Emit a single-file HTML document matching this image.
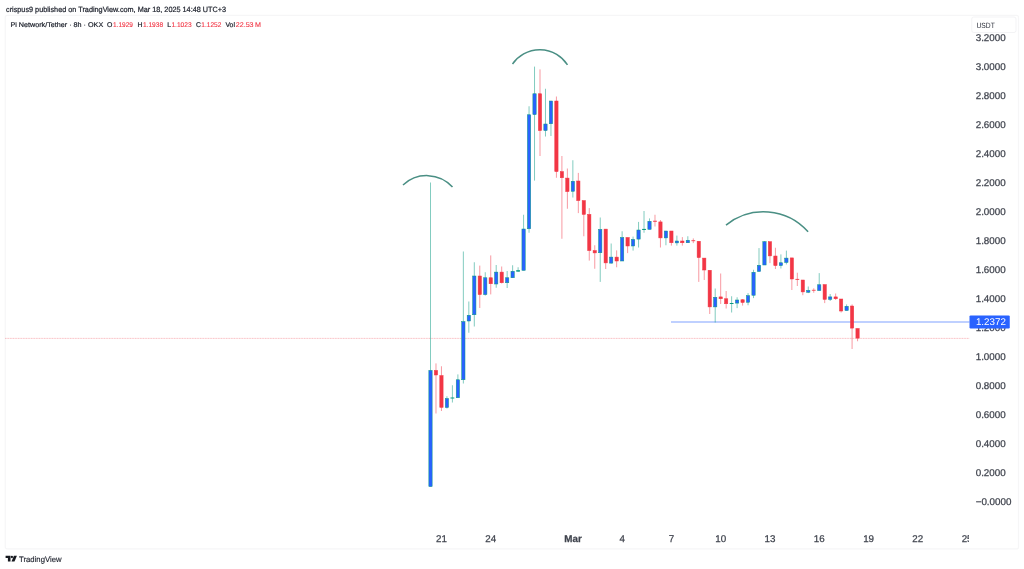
<!DOCTYPE html>
<html><head><meta charset="utf-8"><title>PIUSDT chart</title>
<style>
html,body{margin:0;padding:0;background:#fff;}
body{width:1024px;height:569px;overflow:hidden;font-family:"Liberation Sans",sans-serif;}
svg{display:block;position:absolute;left:0;top:0;will-change:transform;}
text{font-family:"Liberation Sans",sans-serif;text-rendering:geometricPrecision;}
.ax{font-size:9.8px;fill:#3f434d;stroke:#3f434d;stroke-width:0.25px;}
.b{font-weight:bold;}
.hd{font-size:7.6px;fill:#1c202b;stroke:#1c202b;stroke-width:0.22px;}
.lg{font-size:6.9px;fill:#1c202b;stroke:#1c202b;stroke-width:0.2px;}
.lr{fill:#f23645;stroke:#f23645;stroke-width:0.12px;}
</style></head>
<body>
<svg width="1024" height="569" viewBox="0 0 1024 569">
<rect x="0" y="0" width="1024" height="569" fill="#ffffff"/>
<!-- frame -->
<rect x="5.25" y="15.3" width="1013.25" height="533.6" rx="2" ry="2" fill="none" stroke="#f6f6f7" stroke-width="1.2"/>
<!-- header -->
<text x="6" y="11.7" class="hd" textLength="220" lengthAdjust="spacingAndGlyphs">crispus9 published on TradingView.com, Mar 18, 2025 14:48 UTC+3</text>
<!-- legend -->
<text x="10.4" y="27" class="lg" textLength="92.8" lengthAdjust="spacingAndGlyphs">Pi Network/Tether · 8h · OKX</text>
<text x="107.1" y="27" class="lg">O</text><text x="113" y="27" class="lg lr" textLength="19.9" lengthAdjust="spacingAndGlyphs">1.1929</text>
<text x="137.4" y="27" class="lg">H</text><text x="142.9" y="27" class="lg lr" textLength="20.2" lengthAdjust="spacingAndGlyphs">1.1938</text>
<text x="167.3" y="27" class="lg">L</text><text x="171.4" y="27" class="lg lr" textLength="20.3" lengthAdjust="spacingAndGlyphs">1.1023</text>
<text x="196" y="27" class="lg">C</text><text x="201.3" y="27" class="lg lr" textLength="20" lengthAdjust="spacingAndGlyphs">1.1252</text>
<text x="225.4" y="27" class="lg">Vol</text><text x="235.7" y="27" class="lg lr" textLength="25.3" lengthAdjust="spacingAndGlyphs">22.53 M</text>
<!-- USDT box -->
<rect x="971.75" y="17" width="44.25" height="15.5" rx="2" ry="2" fill="#fff" stroke="#f3f3f5" stroke-width="1"/>
<text x="976.5" y="27.6" style="font-size:7.6px;fill:#2a2e39;" textLength="18.3" lengthAdjust="spacingAndGlyphs">USDT</text>
<!-- price labels -->
<text x="975.7" y="41.18" class="ax">3.2000</text>
<text x="975.7" y="70.15" class="ax">3.0000</text>
<text x="975.7" y="99.12" class="ax">2.8000</text>
<text x="975.7" y="128.1" class="ax">2.6000</text>
<text x="975.7" y="157.07" class="ax">2.4000</text>
<text x="975.7" y="186.05" class="ax">2.2000</text>
<text x="975.7" y="215.02" class="ax">2.0000</text>
<text x="975.7" y="243.99" class="ax">1.8000</text>
<text x="975.7" y="272.97" class="ax">1.6000</text>
<text x="975.7" y="301.94" class="ax">1.4000</text>
<text x="975.7" y="330.92" class="ax">1.2000</text>
<text x="975.7" y="359.89" class="ax">1.0000</text>
<text x="975.7" y="388.86" class="ax">0.8000</text>
<text x="975.7" y="417.84" class="ax">0.6000</text>
<text x="975.7" y="446.81" class="ax">0.4000</text>
<text x="975.7" y="475.79" class="ax">0.2000</text>
<text x="975.7" y="504.76" class="ax">−0.0000</text>
<!-- time labels -->
<g clip-path="url(#tc)">
<text x="441.5" y="541.95" text-anchor="middle" class="ax">21</text>
<text x="490.8" y="541.95" text-anchor="middle" class="ax">24</text>
<text x="573" y="541.95" text-anchor="middle" class="ax b">Mar</text>
<text x="622.2" y="541.95" text-anchor="middle" class="ax">4</text>
<text x="671.5" y="541.95" text-anchor="middle" class="ax">7</text>
<text x="720.8" y="541.95" text-anchor="middle" class="ax">10</text>
<text x="770" y="541.95" text-anchor="middle" class="ax">13</text>
<text x="819.3" y="541.95" text-anchor="middle" class="ax">16</text>
<text x="868.6" y="541.95" text-anchor="middle" class="ax">19</text>
<text x="917.8" y="541.95" text-anchor="middle" class="ax">22</text>
<text x="967.1" y="541.95" text-anchor="middle" class="ax">25</text>
</g>
<defs><clipPath id="tc"><rect x="0" y="520" width="969" height="40"/></clipPath></defs>
<!-- last price dotted line -->
<line x1="5" y1="338.4" x2="969.5" y2="338.4" stroke="#f23645" stroke-opacity="0.12" stroke-width="1"/>
<line x1="5" y1="338.4" x2="969.5" y2="338.4" stroke="#f23645" stroke-opacity="0.2" stroke-width="1" stroke-dasharray="1.3 1.3"/>
<!-- horizontal ray -->
<line x1="671" y1="322" x2="969.5" y2="322" stroke="#2962ff" stroke-opacity="0.4" stroke-width="1.5"/>
<!-- candles -->
<rect x="430" y="182.5" width="1" height="304.1" fill="#089981" fill-opacity="0.5"/>
<rect x="428.85" y="370.4" width="3.3" height="116.2" fill="#2962ff" stroke="#089981" stroke-width="0.5"/>
<rect x="435.48" y="363.4" width="1" height="50.1" fill="#f23645" fill-opacity="0.5"/>
<rect x="434.33" y="370.4" width="3.3" height="4.6" fill="#f23645" stroke="#f23645" stroke-width="0.5"/>
<rect x="440.95" y="366.25" width="1" height="44.75" fill="#f23645" fill-opacity="0.5"/>
<rect x="439.8" y="375.6" width="3.3" height="31.8" fill="#f23645" stroke="#f23645" stroke-width="0.5"/>
<rect x="446.43" y="396.25" width="1" height="12.25" fill="#089981" fill-opacity="0.5"/>
<rect x="445.28" y="398.5" width="3.3" height="9" fill="#2962ff" stroke="#089981" stroke-width="0.5"/>
<rect x="451.9" y="385.25" width="1" height="17.25" fill="#089981" fill-opacity="0.5"/>
<rect x="450.5" y="397.5" width="3.8" height="1" fill="#089981" fill-opacity="1"/>
<rect x="457.38" y="374.4" width="1" height="23.35" fill="#089981" fill-opacity="0.5"/>
<rect x="456.23" y="379.75" width="3.3" height="18" fill="#2962ff" stroke="#089981" stroke-width="0.5"/>
<rect x="462.85" y="251.5" width="1" height="132" fill="#089981" fill-opacity="0.5"/>
<rect x="461.7" y="321.6" width="3.3" height="58.15" fill="#2962ff" stroke="#089981" stroke-width="0.5"/>
<rect x="468.32" y="301.5" width="1" height="31.25" fill="#089981" fill-opacity="0.5"/>
<rect x="467.18" y="315.25" width="3.3" height="5.75" fill="#2962ff" stroke="#089981" stroke-width="0.5"/>
<rect x="473.8" y="262.25" width="1" height="64.25" fill="#089981" fill-opacity="0.5"/>
<rect x="472.65" y="276" width="3.3" height="38.75" fill="#2962ff" stroke="#089981" stroke-width="0.5"/>
<rect x="479.27" y="265.6" width="1" height="42.4" fill="#f23645" fill-opacity="0.5"/>
<rect x="478.12" y="276" width="3.3" height="18.6" fill="#f23645" stroke="#f23645" stroke-width="0.5"/>
<rect x="484.75" y="272.25" width="1" height="23.35" fill="#089981" fill-opacity="0.5"/>
<rect x="483.6" y="277.75" width="3.3" height="16.85" fill="#2962ff" stroke="#089981" stroke-width="0.5"/>
<rect x="490.23" y="255.4" width="1" height="39" fill="#f23645" fill-opacity="0.5"/>
<rect x="489.08" y="277.75" width="3.3" height="6" fill="#f23645" stroke="#f23645" stroke-width="0.5"/>
<rect x="495.7" y="265" width="1" height="22.75" fill="#089981" fill-opacity="0.5"/>
<rect x="494.55" y="272.1" width="3.3" height="11.9" fill="#2962ff" stroke="#089981" stroke-width="0.5"/>
<rect x="501.18" y="266.5" width="1" height="17" fill="#f23645" fill-opacity="0.5"/>
<rect x="500.03" y="272.1" width="3.3" height="10.65" fill="#f23645" stroke="#f23645" stroke-width="0.5"/>
<rect x="506.65" y="271" width="1" height="17" fill="#089981" fill-opacity="0.5"/>
<rect x="505.5" y="277.75" width="3.3" height="5" fill="#2962ff" stroke="#089981" stroke-width="0.5"/>
<rect x="512.12" y="265.25" width="1" height="12.75" fill="#089981" fill-opacity="0.5"/>
<rect x="510.98" y="271.25" width="3.3" height="6.5" fill="#2962ff" stroke="#089981" stroke-width="0.5"/>
<rect x="517.6" y="267.25" width="1" height="4.75" fill="#089981" fill-opacity="0.5"/>
<rect x="516.2" y="270.2" width="3.8" height="1.4" fill="#089981" fill-opacity="1"/>
<rect x="523.08" y="214.75" width="1" height="55.65" fill="#089981" fill-opacity="0.5"/>
<rect x="521.93" y="229" width="3.3" height="41.4" fill="#2962ff" stroke="#089981" stroke-width="0.5"/>
<rect x="528.55" y="106.25" width="1" height="126.5" fill="#089981" fill-opacity="0.5"/>
<rect x="527.4" y="114.75" width="3.3" height="114" fill="#2962ff" stroke="#089981" stroke-width="0.5"/>
<rect x="534.02" y="66.6" width="1" height="114" fill="#089981" fill-opacity="0.5"/>
<rect x="532.88" y="93.75" width="3.3" height="20.85" fill="#2962ff" stroke="#089981" stroke-width="0.5"/>
<rect x="539.5" y="69.4" width="1" height="86.6" fill="#f23645" fill-opacity="0.5"/>
<rect x="538.35" y="93.75" width="3.3" height="36.85" fill="#f23645" stroke="#f23645" stroke-width="0.5"/>
<rect x="544.98" y="88.75" width="1" height="47.75" fill="#089981" fill-opacity="0.5"/>
<rect x="543.83" y="124" width="3.3" height="6.6" fill="#2962ff" stroke="#089981" stroke-width="0.5"/>
<rect x="550.45" y="101" width="1" height="35" fill="#089981" fill-opacity="0.5"/>
<rect x="549.3" y="101" width="3.3" height="22.75" fill="#2962ff" stroke="#089981" stroke-width="0.5"/>
<rect x="555.92" y="96.5" width="1" height="81.25" fill="#f23645" fill-opacity="0.5"/>
<rect x="554.77" y="101" width="3.3" height="70.6" fill="#f23645" stroke="#f23645" stroke-width="0.5"/>
<rect x="561.4" y="156" width="1" height="82.75" fill="#f23645" fill-opacity="0.5"/>
<rect x="560.25" y="171.6" width="3.3" height="6.15" fill="#f23645" stroke="#f23645" stroke-width="0.5"/>
<rect x="566.88" y="168.5" width="1" height="40.25" fill="#f23645" fill-opacity="0.5"/>
<rect x="565.73" y="178.1" width="3.3" height="13.5" fill="#f23645" stroke="#f23645" stroke-width="0.5"/>
<rect x="572.35" y="160.25" width="1" height="37.25" fill="#089981" fill-opacity="0.5"/>
<rect x="571.2" y="181.25" width="3.3" height="10" fill="#2962ff" stroke="#089981" stroke-width="0.5"/>
<rect x="577.83" y="172.9" width="1" height="40.2" fill="#f23645" fill-opacity="0.5"/>
<rect x="576.68" y="181" width="3.3" height="19.6" fill="#f23645" stroke="#f23645" stroke-width="0.5"/>
<rect x="583.3" y="200.6" width="1" height="35.65" fill="#f23645" fill-opacity="0.5"/>
<rect x="582.15" y="200.6" width="3.3" height="13.8" fill="#f23645" stroke="#f23645" stroke-width="0.5"/>
<rect x="588.77" y="208.1" width="1" height="52.5" fill="#f23645" fill-opacity="0.5"/>
<rect x="587.62" y="214.4" width="3.3" height="36.2" fill="#f23645" stroke="#f23645" stroke-width="0.5"/>
<rect x="594.25" y="245.25" width="1" height="23.5" fill="#f23645" fill-opacity="0.5"/>
<rect x="593.1" y="250.6" width="3.3" height="2.3" fill="#f23645" stroke="#f23645" stroke-width="0.5"/>
<rect x="599.73" y="217.5" width="1" height="64.4" fill="#089981" fill-opacity="0.5"/>
<rect x="598.58" y="229.4" width="3.3" height="23.35" fill="#2962ff" stroke="#089981" stroke-width="0.5"/>
<rect x="605.2" y="229.1" width="1" height="39.9" fill="#f23645" fill-opacity="0.5"/>
<rect x="604.05" y="229.1" width="3.3" height="33.8" fill="#f23645" stroke="#f23645" stroke-width="0.5"/>
<rect x="610.67" y="243.5" width="1" height="20.25" fill="#089981" fill-opacity="0.5"/>
<rect x="609.52" y="257.1" width="3.3" height="6" fill="#2962ff" stroke="#089981" stroke-width="0.5"/>
<rect x="616.15" y="250.4" width="1" height="16.85" fill="#f23645" fill-opacity="0.5"/>
<rect x="615" y="257.1" width="3.3" height="3.9" fill="#f23645" stroke="#f23645" stroke-width="0.5"/>
<rect x="621.62" y="231.25" width="1" height="29.75" fill="#089981" fill-opacity="0.5"/>
<rect x="620.48" y="237.5" width="3.3" height="23.5" fill="#2962ff" stroke="#089981" stroke-width="0.5"/>
<rect x="627.1" y="237.5" width="1" height="15.6" fill="#f23645" fill-opacity="0.5"/>
<rect x="625.95" y="237.5" width="3.3" height="8.5" fill="#f23645" stroke="#f23645" stroke-width="0.5"/>
<rect x="632.58" y="236.6" width="1" height="14" fill="#089981" fill-opacity="0.5"/>
<rect x="631.43" y="239.4" width="3.3" height="6.6" fill="#2962ff" stroke="#089981" stroke-width="0.5"/>
<rect x="638.05" y="221.9" width="1" height="25.6" fill="#089981" fill-opacity="0.5"/>
<rect x="636.9" y="230" width="3.3" height="9.1" fill="#2962ff" stroke="#089981" stroke-width="0.5"/>
<rect x="643.52" y="211" width="1" height="21.75" fill="#089981" fill-opacity="0.5"/>
<rect x="642.12" y="228.9" width="3.8" height="1.1" fill="#089981" fill-opacity="1"/>
<rect x="649" y="218.4" width="1" height="11" fill="#089981" fill-opacity="0.5"/>
<rect x="647.85" y="221.25" width="3.3" height="8.15" fill="#2962ff" stroke="#089981" stroke-width="0.5"/>
<rect x="654.48" y="214.75" width="1" height="11.75" fill="#f23645" fill-opacity="0.5"/>
<rect x="653.08" y="220.7" width="3.8" height="1.2" fill="#f23645" fill-opacity="0.8"/>
<rect x="659.95" y="220" width="1" height="27.5" fill="#f23645" fill-opacity="0.5"/>
<rect x="658.8" y="221.9" width="3.3" height="16" fill="#f23645" stroke="#f23645" stroke-width="0.5"/>
<rect x="665.42" y="231" width="1" height="14.25" fill="#089981" fill-opacity="0.5"/>
<rect x="664.27" y="231" width="3.3" height="6.9" fill="#2962ff" stroke="#089981" stroke-width="0.5"/>
<rect x="670.9" y="231" width="1" height="14.6" fill="#f23645" fill-opacity="0.5"/>
<rect x="669.75" y="231" width="3.3" height="11.75" fill="#f23645" stroke="#f23645" stroke-width="0.5"/>
<rect x="676.38" y="235.6" width="1" height="10" fill="#089981" fill-opacity="0.5"/>
<rect x="675.23" y="241" width="3.3" height="1.9" fill="#2962ff" stroke="#089981" stroke-width="0.5"/>
<rect x="681.85" y="237.1" width="1" height="8.5" fill="#f23645" fill-opacity="0.5"/>
<rect x="680.7" y="241" width="3.3" height="1.75" fill="#f23645" stroke="#f23645" stroke-width="0.5"/>
<rect x="687.33" y="236.25" width="1" height="6.5" fill="#089981" fill-opacity="0.5"/>
<rect x="686.18" y="240.25" width="3.3" height="2.5" fill="#2962ff" stroke="#089981" stroke-width="0.5"/>
<rect x="692.8" y="238.4" width="1" height="4.7" fill="#f23645" fill-opacity="0.5"/>
<rect x="691.4" y="240.1" width="3.8" height="1.1" fill="#f23645" fill-opacity="0.8"/>
<rect x="698.27" y="241.25" width="1" height="40.65" fill="#f23645" fill-opacity="0.5"/>
<rect x="697.12" y="241.25" width="3.3" height="16.35" fill="#f23645" stroke="#f23645" stroke-width="0.5"/>
<rect x="703.75" y="258.1" width="1" height="21.9" fill="#f23645" fill-opacity="0.5"/>
<rect x="702.6" y="258.1" width="3.3" height="11.9" fill="#f23645" stroke="#f23645" stroke-width="0.5"/>
<rect x="709.22" y="270.25" width="1" height="43.75" fill="#f23645" fill-opacity="0.5"/>
<rect x="708.07" y="270.25" width="3.3" height="36.65" fill="#f23645" stroke="#f23645" stroke-width="0.5"/>
<rect x="714.7" y="288.5" width="1" height="34" fill="#089981" fill-opacity="0.5"/>
<rect x="713.55" y="297.25" width="3.3" height="9.65" fill="#2962ff" stroke="#089981" stroke-width="0.5"/>
<rect x="720.17" y="273.5" width="1" height="30.5" fill="#f23645" fill-opacity="0.5"/>
<rect x="719.02" y="296.9" width="3.3" height="1.85" fill="#f23645" stroke="#f23645" stroke-width="0.5"/>
<rect x="725.65" y="291" width="1" height="17.5" fill="#f23645" fill-opacity="0.5"/>
<rect x="724.5" y="298.75" width="3.3" height="5" fill="#f23645" stroke="#f23645" stroke-width="0.5"/>
<rect x="731.12" y="296.25" width="1" height="16.25" fill="#089981" fill-opacity="0.5"/>
<rect x="729.73" y="303" width="3.8" height="1" fill="#089981" fill-opacity="1"/>
<rect x="736.6" y="297.25" width="1" height="10.85" fill="#089981" fill-opacity="0.5"/>
<rect x="735.45" y="300" width="3.3" height="3.1" fill="#2962ff" stroke="#089981" stroke-width="0.5"/>
<rect x="742.08" y="299" width="1" height="6.6" fill="#f23645" fill-opacity="0.5"/>
<rect x="740.93" y="299.75" width="3.3" height="2.75" fill="#f23645" stroke="#f23645" stroke-width="0.5"/>
<rect x="747.55" y="293.1" width="1" height="12.15" fill="#089981" fill-opacity="0.5"/>
<rect x="746.4" y="295.6" width="3.3" height="6.65" fill="#2962ff" stroke="#089981" stroke-width="0.5"/>
<rect x="753.02" y="269.75" width="1" height="28.35" fill="#089981" fill-opacity="0.5"/>
<rect x="751.88" y="272.25" width="3.3" height="23" fill="#2962ff" stroke="#089981" stroke-width="0.5"/>
<rect x="758.5" y="248.1" width="1" height="23.4" fill="#089981" fill-opacity="0.5"/>
<rect x="757.35" y="265.25" width="3.3" height="6.25" fill="#2962ff" stroke="#089981" stroke-width="0.5"/>
<rect x="763.97" y="241" width="1" height="24" fill="#089981" fill-opacity="0.5"/>
<rect x="762.82" y="241.7" width="3.3" height="23.3" fill="#2962ff" stroke="#089981" stroke-width="0.5"/>
<rect x="769.45" y="241.7" width="1" height="21.4" fill="#f23645" fill-opacity="0.5"/>
<rect x="768.3" y="241.7" width="3.3" height="14.2" fill="#f23645" stroke="#f23645" stroke-width="0.5"/>
<rect x="774.92" y="247.75" width="1" height="21.25" fill="#f23645" fill-opacity="0.5"/>
<rect x="773.77" y="256" width="3.3" height="9.6" fill="#f23645" stroke="#f23645" stroke-width="0.5"/>
<rect x="780.4" y="254.4" width="1" height="14.1" fill="#089981" fill-opacity="0.5"/>
<rect x="779.25" y="262.75" width="3.3" height="2.85" fill="#2962ff" stroke="#089981" stroke-width="0.5"/>
<rect x="785.88" y="250.6" width="1" height="13.8" fill="#089981" fill-opacity="0.5"/>
<rect x="784.73" y="258.1" width="3.3" height="4.4" fill="#2962ff" stroke="#089981" stroke-width="0.5"/>
<rect x="791.35" y="257.9" width="1" height="32.1" fill="#f23645" fill-opacity="0.5"/>
<rect x="790.2" y="257.9" width="3.3" height="21.1" fill="#f23645" stroke="#f23645" stroke-width="0.5"/>
<rect x="796.83" y="272.75" width="1" height="13.25" fill="#f23645" fill-opacity="0.5"/>
<rect x="795.43" y="278.9" width="3.8" height="1.1" fill="#f23645" fill-opacity="0.8"/>
<rect x="802.3" y="280" width="1" height="15.2" fill="#f23645" fill-opacity="0.5"/>
<rect x="801.15" y="280" width="3.3" height="11.9" fill="#f23645" stroke="#f23645" stroke-width="0.5"/>
<rect x="807.77" y="286.5" width="1" height="6.6" fill="#089981" fill-opacity="0.5"/>
<rect x="806.62" y="290.4" width="3.3" height="1.85" fill="#2962ff" stroke="#089981" stroke-width="0.5"/>
<rect x="813.25" y="288.3" width="1" height="4.45" fill="#f23645" fill-opacity="0.5"/>
<rect x="811.85" y="289.8" width="3.8" height="1" fill="#f23645" fill-opacity="0.8"/>
<rect x="818.72" y="273.1" width="1" height="17.5" fill="#089981" fill-opacity="0.5"/>
<rect x="817.57" y="284.75" width="3.3" height="5.85" fill="#2962ff" stroke="#089981" stroke-width="0.5"/>
<rect x="824.2" y="284.6" width="1" height="18.5" fill="#f23645" fill-opacity="0.5"/>
<rect x="823.05" y="284.6" width="3.3" height="14.8" fill="#f23645" stroke="#f23645" stroke-width="0.5"/>
<rect x="829.67" y="294" width="1" height="7" fill="#089981" fill-opacity="0.5"/>
<rect x="828.52" y="296.9" width="3.3" height="2.5" fill="#2962ff" stroke="#089981" stroke-width="0.5"/>
<rect x="835.15" y="293.5" width="1" height="6.5" fill="#f23645" fill-opacity="0.5"/>
<rect x="834" y="296.9" width="3.3" height="1.85" fill="#f23645" stroke="#f23645" stroke-width="0.5"/>
<rect x="840.62" y="299" width="1" height="13.5" fill="#f23645" fill-opacity="0.5"/>
<rect x="839.48" y="299" width="3.3" height="12" fill="#f23645" stroke="#f23645" stroke-width="0.5"/>
<rect x="846.1" y="304.4" width="1" height="6.2" fill="#089981" fill-opacity="0.5"/>
<rect x="844.95" y="306.25" width="3.3" height="4.35" fill="#2962ff" stroke="#089981" stroke-width="0.5"/>
<rect x="851.58" y="304.4" width="1" height="44.6" fill="#f23645" fill-opacity="0.5"/>
<rect x="850.43" y="306" width="3.3" height="22.1" fill="#f23645" stroke="#f23645" stroke-width="0.5"/>
<rect x="857.05" y="328.5" width="1" height="12.75" fill="#f23645" fill-opacity="0.5"/>
<rect x="855.9" y="328.5" width="3.3" height="9.6" fill="#f23645" stroke="#f23645" stroke-width="0.5"/>
<!-- arcs -->
<g fill="none" stroke="#4a8f84" stroke-width="1.5" stroke-linecap="butt">
<path d="M403 185 A34.74 34.74 0 0 1 452.5 187"/>
<path d="M512.5 64.05 A33.1 33.1 0 0 1 567.5 64.9"/>
<path d="M726 225.1 A59.56 59.56 0 0 1 808.1 231.8"/>
</g>
<!-- price label box -->
<rect x="969.5" y="315.4" width="40.25" height="13" rx="1.2" ry="1.2" fill="#2962ff"/>
<text x="975.9" y="325.2" style="font-size:9.8px;fill:#ffffff;">1.2372</text>
<!-- TradingView logo -->
<g fill="#16191f">
<path d="M5.6 555.8 h4.9 v5.6 h-2.6 v-3.3 h-2.3 z"/>
<circle cx="11.9" cy="557" r="1.15"/>
<path d="M13.9 555.8 h3 l-2.4 5.6 h-3 z"/>
</g>
<text x="19.1" y="561.8" style="font-size:7.9px;fill:#1e222d;stroke:#1e222d;stroke-width:0.15px;" textLength="42.4" lengthAdjust="spacingAndGlyphs">TradingView</text>
</svg>
</body></html>
